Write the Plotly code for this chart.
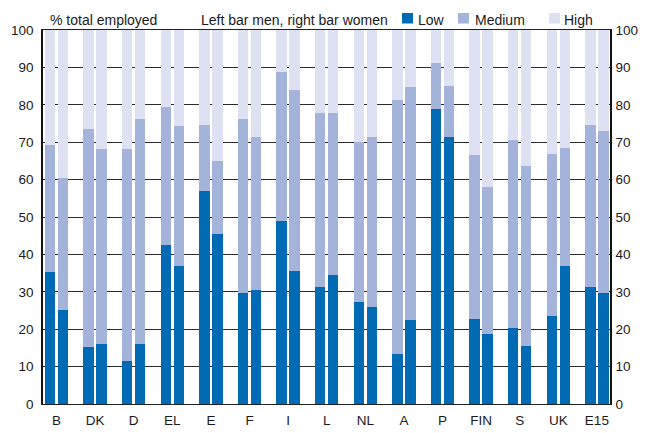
import plotly.graph_objects as go

countries = ["B", "DK", "D", "EL", "E", "F", "I", "L", "NL", "A", "P", "FIN", "S", "UK", "E15"]

# Share of total employed (%) by education level
men_low = [35.3, 15.2, 11.5, 42.5, 57.0, 29.7, 48.9, 31.3, 27.3, 13.5, 78.9, 22.7, 20.3, 23.5, 31.3]
men_medium = [34.0, 58.3, 56.7, 36.9, 17.6, 46.5, 39.9, 46.5, 42.8, 67.8, 12.3, 43.9, 50.3, 43.3, 43.3]
men_high = [30.7, 26.5, 31.8, 20.6, 25.4, 23.8, 11.2, 22.2, 29.9, 18.7, 8.8, 33.4, 29.4, 33.2, 25.4]

women_low = [25.1, 16.0, 16.0, 36.9, 45.5, 30.5, 35.6, 34.5, 25.9, 22.5, 71.4, 18.7, 15.5, 36.9, 29.7]
women_medium = [35.3, 52.2, 60.2, 37.4, 19.5, 40.9, 48.4, 43.3, 45.5, 62.3, 13.6, 39.3, 48.1, 31.5, 43.3]
women_high = [39.6, 31.8, 23.8, 25.7, 35.0, 28.6, 16.0, 22.2, 28.6, 15.2, 15.0, 42.0, 36.4, 31.6, 27.0]

levels = ["Low", "Medium", "High"]
colors = {"Low": "#006AB5", "Medium": "#A4B3DA", "High": "#DDE1F1"}

pos = list(range(len(countries)))
men_x = [p - 0.17 for p in pos]
women_x = [p + 0.17 for p in pos]

fig = go.Figure()
men = {"Low": men_low, "Medium": men_medium, "High": men_high}
women = {"Low": women_low, "Medium": women_medium, "High": women_high}
for lvl in levels:
    fig.add_trace(go.Bar(x=men_x, y=men[lvl], width=0.27, name=lvl,
                         marker=dict(color=colors[lvl], line=dict(width=0)),
                         customdata=countries, hovertemplate="%{customdata} men " + lvl + ": %{y}<extra></extra>",
                         showlegend=False))
    fig.add_trace(go.Bar(x=women_x, y=women[lvl], width=0.27, name=lvl,
                         marker=dict(color=colors[lvl], line=dict(width=0)),
                         customdata=countries, hovertemplate="%{customdata} women " + lvl + ": %{y}<extra></extra>",
                         showlegend=False))

# invisible trace to anchor the right-hand axis
fig.add_trace(go.Scatter(x=[0], y=[0], yaxis="y2", mode="markers",
                         marker=dict(opacity=0), showlegend=False, hoverinfo="skip"))

font = dict(family="Liberation Sans, Arial, sans-serif", size=13, color="#1a1a1a")

# The page body has an 8px margin, so the figure is drawn 8px in from the window corner.
OFF = 8
W, H = 646 - OFF, 433 - OFF
PL, PR, PT, PB = 43, 610, 30, 404          # plot area in window pixels
L, R, T, B = PL - OFF, W - (PR - OFF), PT - OFF, H - (PB - OFF)
pw, ph = W - L - R, H - T - B

def px(x):
    return (x - OFF - L) / pw

def py(y):
    return (H - B - (y - OFF)) / ph

annotations = [
    dict(text="% total employed", x=px(48), y=py(19.5), xanchor="left", yanchor="middle"),
    dict(text="Left bar men, right bar women", x=px(199), y=py(19.5), xanchor="left", yanchor="middle"),
]
shapes = []
legend_items = [("Low", 402, 416), ("Medium", 458, 473), ("High", 549, 562)]
for name, sx, tx in legend_items:
    shapes.append(dict(type="rect", xref="paper", yref="paper",
                       x0=px(sx), x1=px(sx + 11), y0=py(23.5), y1=py(13),
                       fillcolor=colors[name], line=dict(width=0), layer="above"))
    annotations.append(dict(text=name, x=px(tx), y=py(19.5), xanchor="left", yanchor="middle"))
for a in annotations:
    a.update(xref="paper", yref="paper", showarrow=False,
             font=dict(family=font["family"], size=14, color="#1a1a1a"))

fig.update_layout(
    width=W, height=H,
    margin=dict(l=L, r=R, t=T, b=B, pad=0, autoexpand=False),
    paper_bgcolor="white", plot_bgcolor="white",
    barmode="stack", bargap=0,
    font=font,
    showlegend=False,
    annotations=annotations,
    shapes=shapes,
    xaxis=dict(range=[-0.35, 14.34], tickmode="array", tickvals=pos, ticktext=countries,
               showgrid=False, zeroline=False, showline=True, mirror=True, automargin=False,
               linecolor="#222", linewidth=1.2, ticks="", ticklabelstandoff=4,
               tickfont=dict(size=13.5), fixedrange=True),
    yaxis=dict(range=[0, 100], dtick=10, showgrid=True, gridcolor="#2a2a2a", gridwidth=1,
               zeroline=False, showline=True, linecolor="#111", linewidth=1.5, automargin=False,
               ticks="", ticklabelstandoff=5, tickfont=dict(size=13.5), fixedrange=True),
    yaxis2=dict(range=[0, 100], dtick=10, overlaying="y", side="right", showgrid=False,
                zeroline=False, showline=True, linecolor="#111", linewidth=1.5, automargin=False,
                ticks="", ticklabelstandoff=1, tickfont=dict(size=13.5), fixedrange=True),
)

fig.write_html("out.html")
